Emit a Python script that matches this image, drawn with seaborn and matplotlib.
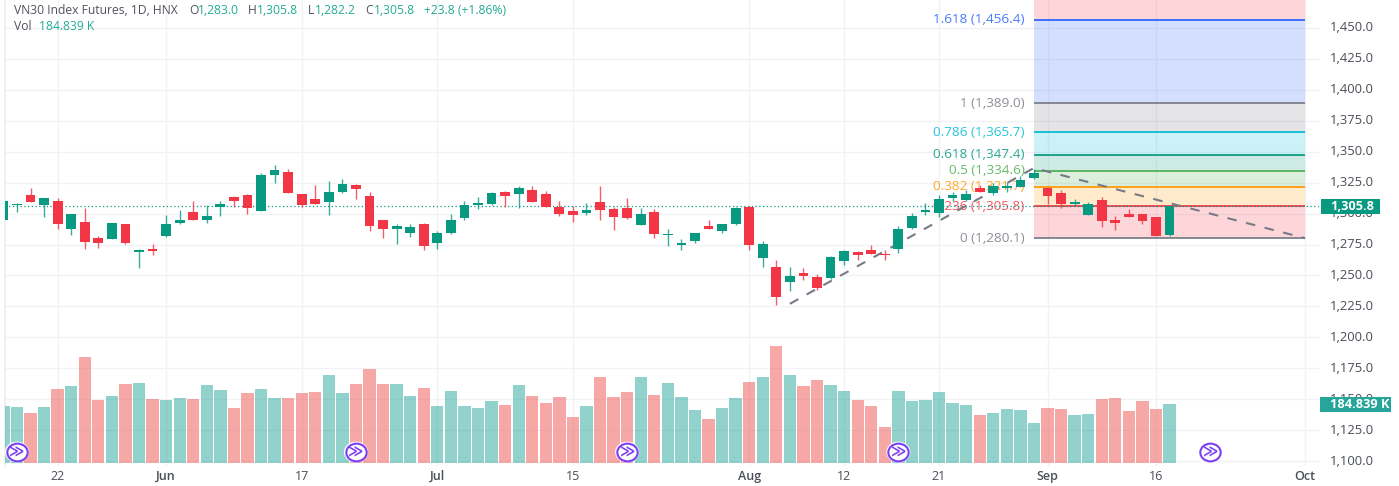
import matplotlib
matplotlib.use("Agg")
import matplotlib.pyplot as plt
import matplotlib.ticker as mticker
from matplotlib.markers import MarkerStyle
from matplotlib.patches import Rectangle
from matplotlib.path import Path
from matplotlib.transforms import Affine2D, ScaledTranslation
import numpy as np
import pandas as pd
import seaborn as sns

opens = [1295.2,1306.8,1314.9,1307.3,1310.0,1287.9,1293.5,1280.0,1279.2,1291.9,1269.2,1271.1,1281.9,1292.5,1301.4,1295.2,1305.4,1313.0,1314.9,1301.7,
         1331.1,1333.3,1315.4,1311.9,1309.5,1317.3,1322.7,1314.1,1294.4,1287.3,1284.6,1291.4,1276.5,1284.4,1296.5,1306.8,1308.1,1317.1,1316.0,1319.2,
         1315.7,1304.9,1301.9,1300.8,1309.2,1303.3,1304.1,1290.8,1301.4,1282.7,1274.4,1277.9,1289.8,1286.0,1291.7,1305.4,1264.4,1257.1,1244.4,1252.2,
         1248.4,1247.9,1261.7,1268.9,1270.6,1267.1,1271.1,1288.7,1301.4,1300.6,1312.5,1310.8,1320.6,1316.3,1320.8,1321.1,1329.0,1320.6,1316.3,1307.9,
         1299.0,1310.6,1294.4,1299.8,1299.8,1297.1,1283.0]
highs = [1310.0,1308.7,1320.3,1312.2,1312.2,1300.0,1304.6,1282.2,1292.7,1291.9,1271.7,1275.2,1298.7,1302.7,1310.0,1307.3,1310.0,1314.4,1315.7,1332.5,
         1339.5,1336.0,1315.4,1323.0,1326.0,1327.9,1323.6,1317.3,1294.4,1291.9,1291.9,1292.7,1285.7,1299.5,1310.0,1313.5,1317.3,1318.1,1322.2,1322.2,
         1318.1,1310.0,1306.0,1308.7,1322.2,1304.9,1312.2,1304.4,1303.5,1287.9,1279.2,1284.6,1295.2,1291.9,1304.9,1306.3,1277.9,1262.7,1256.5,1255.7,
         1251.4,1266.0,1270.3,1269.8,1274.4,1270.3,1289.8,1300.8,1308.7,1314.9,1317.1,1319.0,1323.3,1324.4,1325.7,1330.3,1335.7,1321.1,1319.0,1311.7,
         1309.0,1313.5,1297.9,1303.5,1299.8,1297.1,1305.8]
lows = [1295.2,1301.4,1309.5,1297.3,1287.3,1283.0,1271.4,1272.2,1279.2,1275.4,1255.7,1266.2,1280.8,1291.7,1294.4,1292.5,1297.9,1305.4,1300.0,1301.7,
        1324.9,1316.8,1305.4,1308.1,1298.7,1316.8,1311.7,1286.0,1280.3,1275.2,1281.1,1270.8,1271.4,1283.5,1294.4,1303.8,1306.8,1305.4,1304.6,1309.5,
        1305.4,1297.9,1293.0,1298.7,1294.4,1287.1,1295.4,1290.8,1280.3,1273.5,1270.8,1276.2,1287.3,1284.4,1291.1,1270.8,1256.5,1226.5,1237.3,1246.0,
        1237.9,1247.1,1258.7,1262.5,1267.3,1262.7,1268.1,1287.6,1298.7,1297.3,1310.3,1310.3,1317.1,1315.2,1317.6,1321.1,1327.6,1307.6,1304.6,1306.3,
        1299.0,1289.2,1286.5,1297.3,1291.9,1281.7,1282.2]
closes = [1310.0,1308.1,1309.5,1312.2,1291.7,1300.0,1277.3,1276.0,1292.7,1276.5,1270.3,1270.0,1291.4,1294.9,1294.4,1298.4,1307.6,1310.3,1304.6,1330.8,
          1334.9,1316.8,1307.3,1308.1,1317.1,1323.6,1320.0,1290.0,1287.3,1289.8,1289.0,1273.8,1284.6,1294.9,1307.1,1308.4,1316.3,1313.8,1320.6,1309.5,
          1305.4,1299.8,1298.7,1302.7,1303.0,1297.3,1296.5,1299.8,1283.8,1283.5,1276.2,1284.6,1287.3,1291.9,1304.1,1274.6,1275.4,1232.5,1249.2,1249.5,
          1239.5,1264.9,1269.8,1266.5,1267.3,1266.2,1287.6,1297.9,1302.5,1311.9,1314.6,1315.7,1317.1,1322.2,1321.9,1327.1,1333.0,1314.1,1308.1,1309.5,
          1307.6,1293.8,1292.7,1297.3,1293.8,1281.7,1305.8]
volumes = [178.7,176.6,157.9,176.6,231.7,240.0,331.4,198.4,209.9,248.3,250.4,201.6,196.4,203.6,201.6,243.1,228.6,171.4,218.2,231.7,
           203.6,203.6,218.2,221.3,275.3,218.2,248.3,294.0,248.3,248.3,209.9,234.8,178.7,226.5,178.7,171.4,193.3,181.8,245.2,209.9,
           188.1,206.8,143.4,178.7,270.1,206.8,223.4,270.1,213.0,250.4,206.8,165.2,138.2,173.5,203.6,253.5,270.1,364.7,275.3,240.0,
           259.8,245.2,226.5,198.4,179.7,113.3,226.5,193.3,198.4,223.4,188.1,181.8,151.7,157.9,168.3,165.2,124.7,173.5,168.3,151.7,
           154.8,201.6,203.6,163.1,193.3,168.3,184.839]

xtick_pos = [4, 12, 22, 32, 42, 55, 62, 69, 77, 85, 96]
xtick_labels = ["22", "Jun", "17", "Jul", "15", "Aug", "12", "21", "Sep", "16", "Oct"]
ytick_vals = [1100,1125,1150,1175,1200,1225,1250,1275,1300,1325,1350,1375,1400,1425,1450]

fib_ratio = ["0", "0.236", "0.382", "0.5", "0.618", "0.786", "1", "1.618"]
fib_price = [1280.1, 1305.8, 1321.7, 1334.6, 1347.4, 1365.7, 1389.0, 1456.4]
fib_color = ["#787B86", "#F23645", "#FF9800", "#4CAF50", "#089981", "#00BCD4", "#787B86", "#2962FF"]
fib_next_top = 1565.0
fib_start, fib_end = 76, 96

trend_i = [58, 76, 96]
trend_p = [1227.1, 1336.8, 1280.1]
event_i = [1, 26, 46, 66, 89]
event_level = 35.0

UP, DOWN = "#089981", "#F23645"
VUP, VDOWN = "#26A69A", "#EF5350"
PURPLE = "#7B3FF2"
TXT = "#4A4E57"

sns.set_theme(style="white")
plt.rcParams["font.family"] = ["Open Sans", "DejaVu Sans"]

W, H = 1399, 486
fig = plt.figure(figsize=(W / 100, H / 100), dpi=100, facecolor="white")
ax = fig.add_axes([5 / W, 1 - 466 / H, (1319 - 5) / W, 466 / H])

df = pd.DataFrame({"i": np.arange(len(opens)), "o": opens, "h": highs, "l": lows, "c": closes, "vol": volumes})
df["up"] = df["c"] >= df["o"]

ax2 = ax.twinx()
sns.barplot(data=df, x="i", y="vol", hue="up", dodge=False, native_scale=True, width=0.91, saturation=1,
            palette={True: VUP, False: VDOWN}, alpha=0.5, linewidth=0, legend=False, ax=ax2)
ax2.set_ylim(-8.4, 1444)
ax2.axis("off")
ax2.patch.set_visible(False)
ax.set_zorder(1)
ax2.set_zorder(2)
ax.patch.set_visible(False)

# Fibonacci zones and levels
tops = fib_price[1:] + [fib_next_top]
fill_cols = ["#F23645", "#FF9800"] + fib_color[3:] + ["#F23645"]
for lo, hi, col in zip(fib_price, tops, fill_cols):
    ax.fill_between([fib_start, fib_end], lo, hi, color=col, alpha=0.2, lw=0, zorder=1)
for r, p, col in zip(fib_ratio, fib_price, fib_color):
    ax.plot([fib_start, fib_end], [p, p], color=col, lw=1.25, zorder=1.5, solid_capstyle="butt")
    ax.annotate(f"{r} ({p:,.1f})", xy=(fib_start, p), xytext=(-6.8, 0), textcoords="offset points",
                ha="right", va="center", color=col, fontsize=9.7, zorder=1.8, alpha=0.85)

ax.plot(trend_i, trend_p, color="#787B86", lw=1.5, dashes=(4.6, 4.6), zorder=2.5)
ax.axhline(closes[-1], color=UP, lw=0.9, ls=(0, (1, 2)), zorder=2)

# Candles
for up, col in ((True, UP), (False, DOWN)):
    s = df[df["up"] == up]
    ax.vlines(s["i"], s["l"], s["h"], color=col, lw=1.0, alpha=0.8, zorder=3)
    ax.bar(s["i"], (s["c"] - s["o"]).abs(), bottom=s[["c", "o"]].min(axis=1), width=0.72,
           color=col, linewidth=0, zorder=3.2)

# Event markers sit above the volume bars
ell = Path.unit_circle().transformed(Affine2D().scale(1.15, 1.0))
event_y = [event_level] * len(event_i)
ax2.scatter(event_i, event_y, s=300, marker=MarkerStyle(ell), facecolor="white", edgecolor="none",
            zorder=5, clip_on=False)
ax2.scatter(event_i, event_y, s=215, marker=MarkerStyle(ell), facecolor="white", edgecolor=PURPLE,
            linewidth=1.5, zorder=5.1, clip_on=False)
for i, y in zip(event_i, event_y):
    ax2.text(i, y, "≫", color=PURPLE, fontsize=10.5, ha="center", va="center", zorder=5.2,
             family=["DejaVu Sans"], fontweight="bold")

# Axes
ax.set_xlim(0.118, 97.02)
ax.set_ylim(1096.1, 1472.5)
ax.set_xticks(xtick_pos)
ax.set_xticklabels(xtick_labels)
for lab, txt in zip(ax.get_xticklabels(), xtick_labels):
    lab.set_fontweight("semibold" if not txt.isdigit() else "normal")
ax.set_yticks(ytick_vals)
ax.yaxis.set_major_formatter(mticker.FuncFormatter(lambda v, _: f"{v:,.1f}"))
ax.yaxis.tick_right()
ax.tick_params(axis="y", length=0, pad=8, labelsize=9.4, labelcolor=TXT)
ax.tick_params(axis="x", length=0, pad=3, labelsize=9, labelcolor=TXT)
shift_up = ScaledTranslation(0, 1.5 / 100, fig.dpi_scale_trans)
for t in ax.yaxis.get_major_ticks():
    t.label2.set_transform(t.label2.get_transform() + shift_up)
ax.grid(True, color="#F1F2F5", lw=1.0, zorder=0)
ax.set_axisbelow(True)
for side in ("top", "right", "bottom"):
    ax.spines[side].set_visible(False)
ax.spines["left"].set_color("#EBEDF2")
ax.spines["left"].set_linewidth(1.2)


# Price and volume tags
def tag(x0, x1, y0, y1, colour, text, tx):
    fig.add_artist(Rectangle((x0 / W, 1 - y1 / H), (x1 - x0) / W, (y1 - y0) / H, transform=fig.transFigure,
                             facecolor=colour, edgecolor="none", zorder=20))
    fig.text(tx / W, 1 - (y0 + y1) / 2 / H, text, color="white", fontsize=9.2, fontweight="bold",
             va="center", ha="left", zorder=21)


tag(1320.5, 1380, 199, 214, UP, f"{closes[-1]:,.1f}", 1330)
tag(1320, 1391, 397, 412, "#26A69A", f"{volumes[-1]:.3f} K", 1330)

# Header
LBL, VAL = "#50535E", "#22AB94"
hdr = [(14, 11, "VN30 Index Futures, 1D, HNX", LBL), (189, 11, "O", LBL), (198, 11, "1,283.0", VAL),
       (248, 11, "H", LBL), (257, 11, "1,305.8", VAL), (308, 11, "L", LBL), (315, 11, "1,282.2", VAL),
       (365, 11, "C", LBL), (374, 11, "1,305.8", VAL), (424, 11, "+23.8 (+1.86%)", VAL),
       (14, 26, "Vol", LBL), (39, 26, f"{volumes[-1]:.3f} K", VAL)]
for x, y, t, c in hdr:
    fig.text(x / W, 1 - y / H, t, color=c, fontsize=8.7, va="center", ha="left", zorder=20)

fig.savefig("out.png", dpi=100)
